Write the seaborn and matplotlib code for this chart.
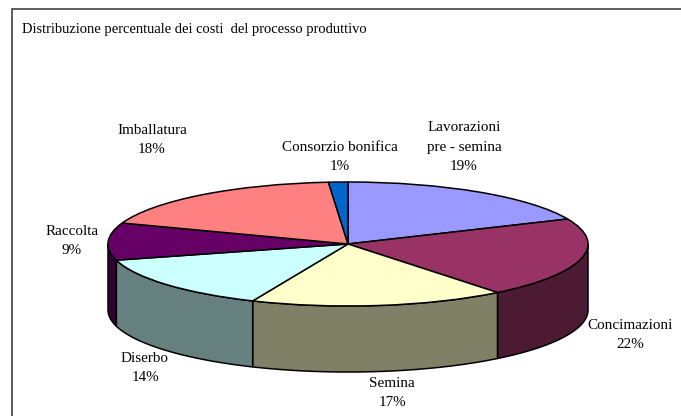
import numpy as np
import matplotlib
matplotlib.use("Agg")
import matplotlib.pyplot as plt
import seaborn as sns

categories = ["Lavorazioni\npre - semina", "Concimazioni", "Semina", "Diserbo",
              "Raccolta", "Imballatura", "Consorzio bonifica"]
pct_labels = ["19%", "22%", "17%", "14%", "9%", "18%", "1%"]
shares = [18.4, 20.9, 17.2, 14.3, 9.7, 18.2, 1.3]
title = "Distribuzione percentuale dei costi  del processo produttivo"

sns.set_style("white")
plt.rcParams["font.family"] = ["Liberation Serif", "DejaVu Serif"]

top_colors = sns.color_palette(["#9999FF", "#993366", "#FFFFCC", "#CCFFFF",
                                "#660066", "#FF8080", "#0066CC"])
wall_colors = [tuple(c * 0.5 for c in col) for col in top_colors]

W, H = 681, 416
CX, CY, RX, RY, DEPTH = 348, 244, 240, 62, 66
fig = plt.figure(figsize=(W / 100, H / 100), dpi=100)
ax = fig.add_axes([0, 0, 1, 1])

ax.pie(shares, colors=top_colors, startangle=90, counterclock=False, radius=1,
       wedgeprops=dict(edgecolor="black", linewidth=1.1), frame=True)
ax.set_aspect("auto")
ax.set_xlim((0 - CX) / RX, (W - CX) / RX)
ax.set_ylim((CY - H) / RY, CY / RY)
ax.set_xticks([]); ax.set_yticks([])
for s in ax.spines.values():
    s.set_visible(False)

d = DEPTH / RY
edges = np.concatenate([[0], np.cumsum(shares)]) / np.sum(shares) * 2 * np.pi
for i, (a0, a1) in enumerate(zip(edges[:-1], edges[1:])):
    # clockwise angle from the top; only the front half (pi/2..3pi/2) has a wall
    lo, hi = max(a0, np.pi / 2), min(a1, 3 * np.pi / 2)
    if hi <= lo:
        continue
    t = np.linspace(lo, hi, 80)
    x, y = np.sin(t), np.cos(t)
    ax.fill(np.r_[x, x[::-1]], np.r_[y, (y - d)[::-1]], facecolor=wall_colors[i],
            edgecolor="black", linewidth=1.1, joinstyle="round", zorder=0.5)

def to_x(px): return (px - CX) / RX
def to_y(py): return (CY - py) / RY

label_anchor_px = [(464, 147), (630, 335), (392, 393), (145, 368),
                   (72, 241), (152, 140), (340, 157)]
for name, pct, (px, py) in zip(categories, pct_labels, label_anchor_px):
    ax.text(to_x(px), to_y(py), f"{name}\n{pct}", ha="center", va="center",
            fontsize=10.9, linespacing=1.62, color="black")

ax.text(to_x(22), to_y(29), title, ha="left", va="center", fontsize=10.45, color="black")

# chart-area border: only left and top fall inside the crop
ax.plot([to_x(12), to_x(12), to_x(W)], [to_y(H), to_y(9), to_y(9)],
        color="#333333", linewidth=1.1, solid_joinstyle="miter", clip_on=True)

fig.savefig("out.png", dpi=100, facecolor="white")
